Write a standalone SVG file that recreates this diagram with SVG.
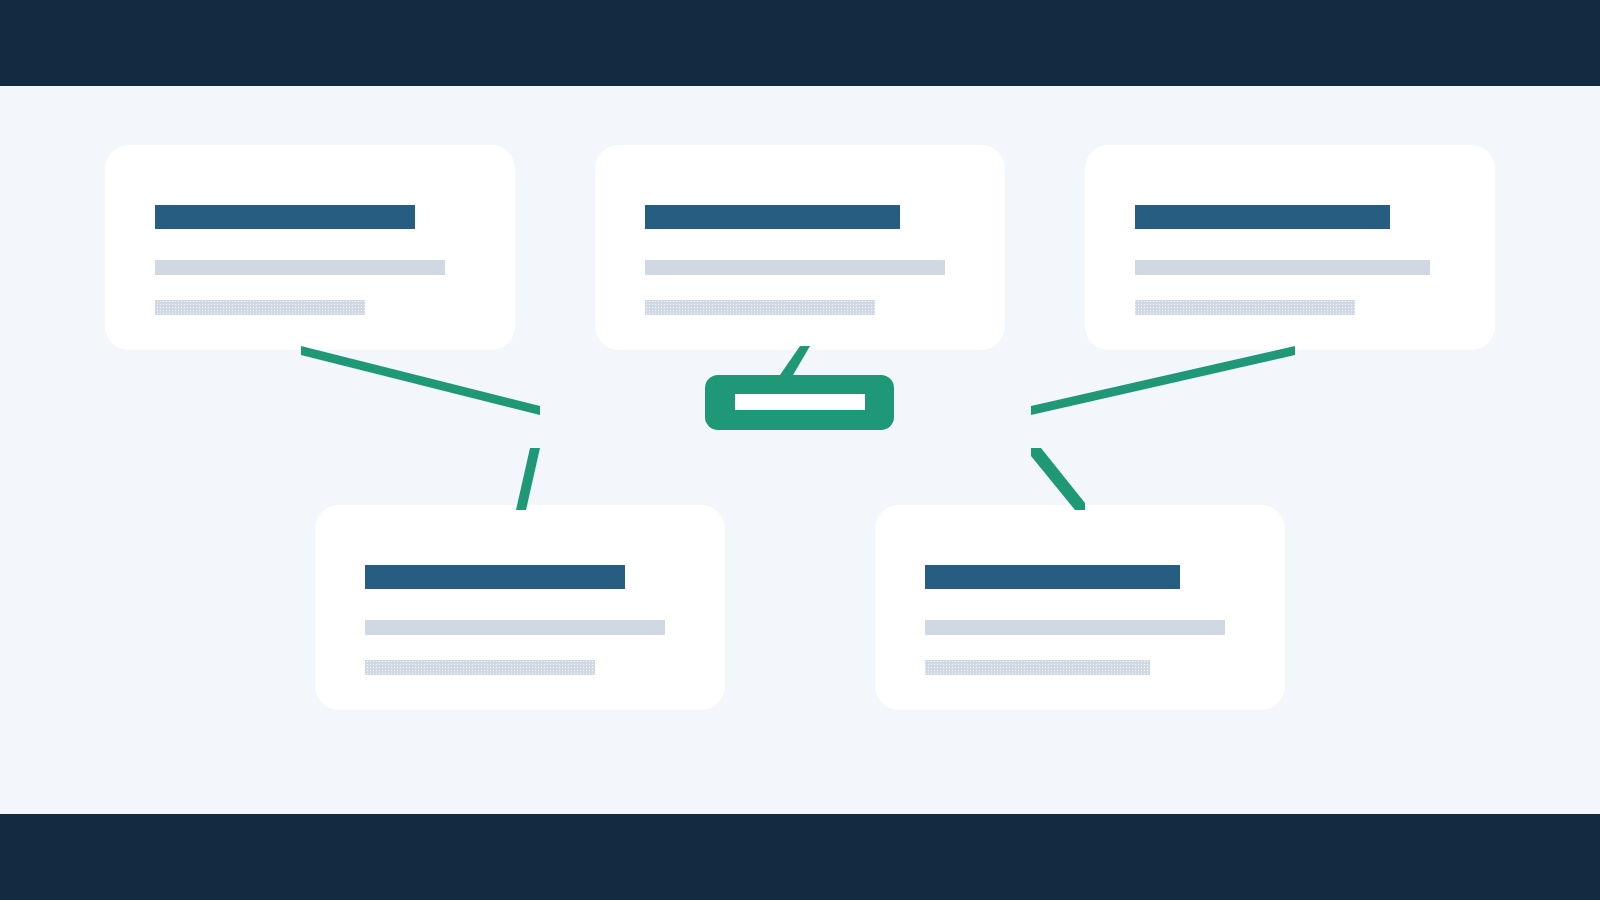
<svg xmlns="http://www.w3.org/2000/svg" width="1600" height="900" viewBox="0 0 1600 900">
<defs>
<pattern id="dots" x="0" y="0" width="3" height="3" patternUnits="userSpaceOnUse">
<rect width="3" height="3" fill="#D0D9E3"/>
<rect x="1" y="1" width="1" height="1" fill="#FFFFFF" opacity="0.85"/>
</pattern>
</defs>
<style>
.card{fill:#FFFFFF}
.title{fill:#265D80}
.sub{fill:#D0D9E3}
.dot{fill:url(#dots)}
.conn{fill:#1E9876}
</style>
<rect x="0" y="0" width="1600" height="900" fill="#F3F7FC"/>
<rect x="0" y="0" width="1600" height="86" fill="#142A40"/>
<rect x="0" y="814" width="1600" height="86" fill="#142A40"/>

<g id="node-1">
<rect class="card" x="105" y="145" width="410" height="205" rx="24"/>
<rect class="title" x="155" y="205" width="260" height="24"/>
<rect class="sub" x="155" y="260" width="290" height="15"/>
<rect class="dot" x="155" y="300" width="210" height="15"/>
</g>
<g id="node-2">
<rect class="card" x="595" y="145" width="410" height="205" rx="24"/>
<rect class="title" x="645" y="205" width="255" height="24"/>
<rect class="sub" x="645" y="260" width="300" height="15"/>
<rect class="dot" x="645" y="300" width="230" height="15"/>
</g>
<g id="node-3">
<rect class="card" x="1085" y="145" width="410" height="205" rx="24"/>
<rect class="title" x="1135" y="205" width="255" height="24"/>
<rect class="sub" x="1135" y="260" width="295" height="15"/>
<rect class="dot" x="1135" y="300" width="220" height="15"/>
</g>
<g id="node-4">
<rect class="card" x="315" y="505" width="410" height="205" rx="24"/>
<rect class="title" x="365" y="565" width="260" height="24"/>
<rect class="sub" x="365" y="620" width="300" height="15"/>
<rect class="dot" x="365" y="660" width="230" height="15"/>
</g>
<g id="node-5">
<rect class="card" x="875" y="505" width="410" height="205" rx="24"/>
<rect class="title" x="925" y="565" width="255" height="24"/>
<rect class="sub" x="925" y="620" width="300" height="15"/>
<rect class="dot" x="925" y="660" width="225" height="15"/>
</g>

<g id="connectors">
<polygon class="conn" points="301,346 540,406 540,415 301,355"/>
<polygon class="conn" points="530,448 540,448 526,510 516,510"/>
<polygon class="conn" points="1031,406 1295,346 1295,355 1031,415"/>
<polygon class="conn" points="1031,448 1041,448 1085,503 1085,510 1075,510 1031,456"/>
<polygon class="conn" points="800,346 810,346 793,375 780,375"/>
</g>

<g id="hub">
<rect x="705" y="375" width="189" height="55" rx="13" fill="#1E9876"/>
<rect x="735" y="394" width="130" height="16" fill="#FFFFFF"/>
</g>
</svg>
